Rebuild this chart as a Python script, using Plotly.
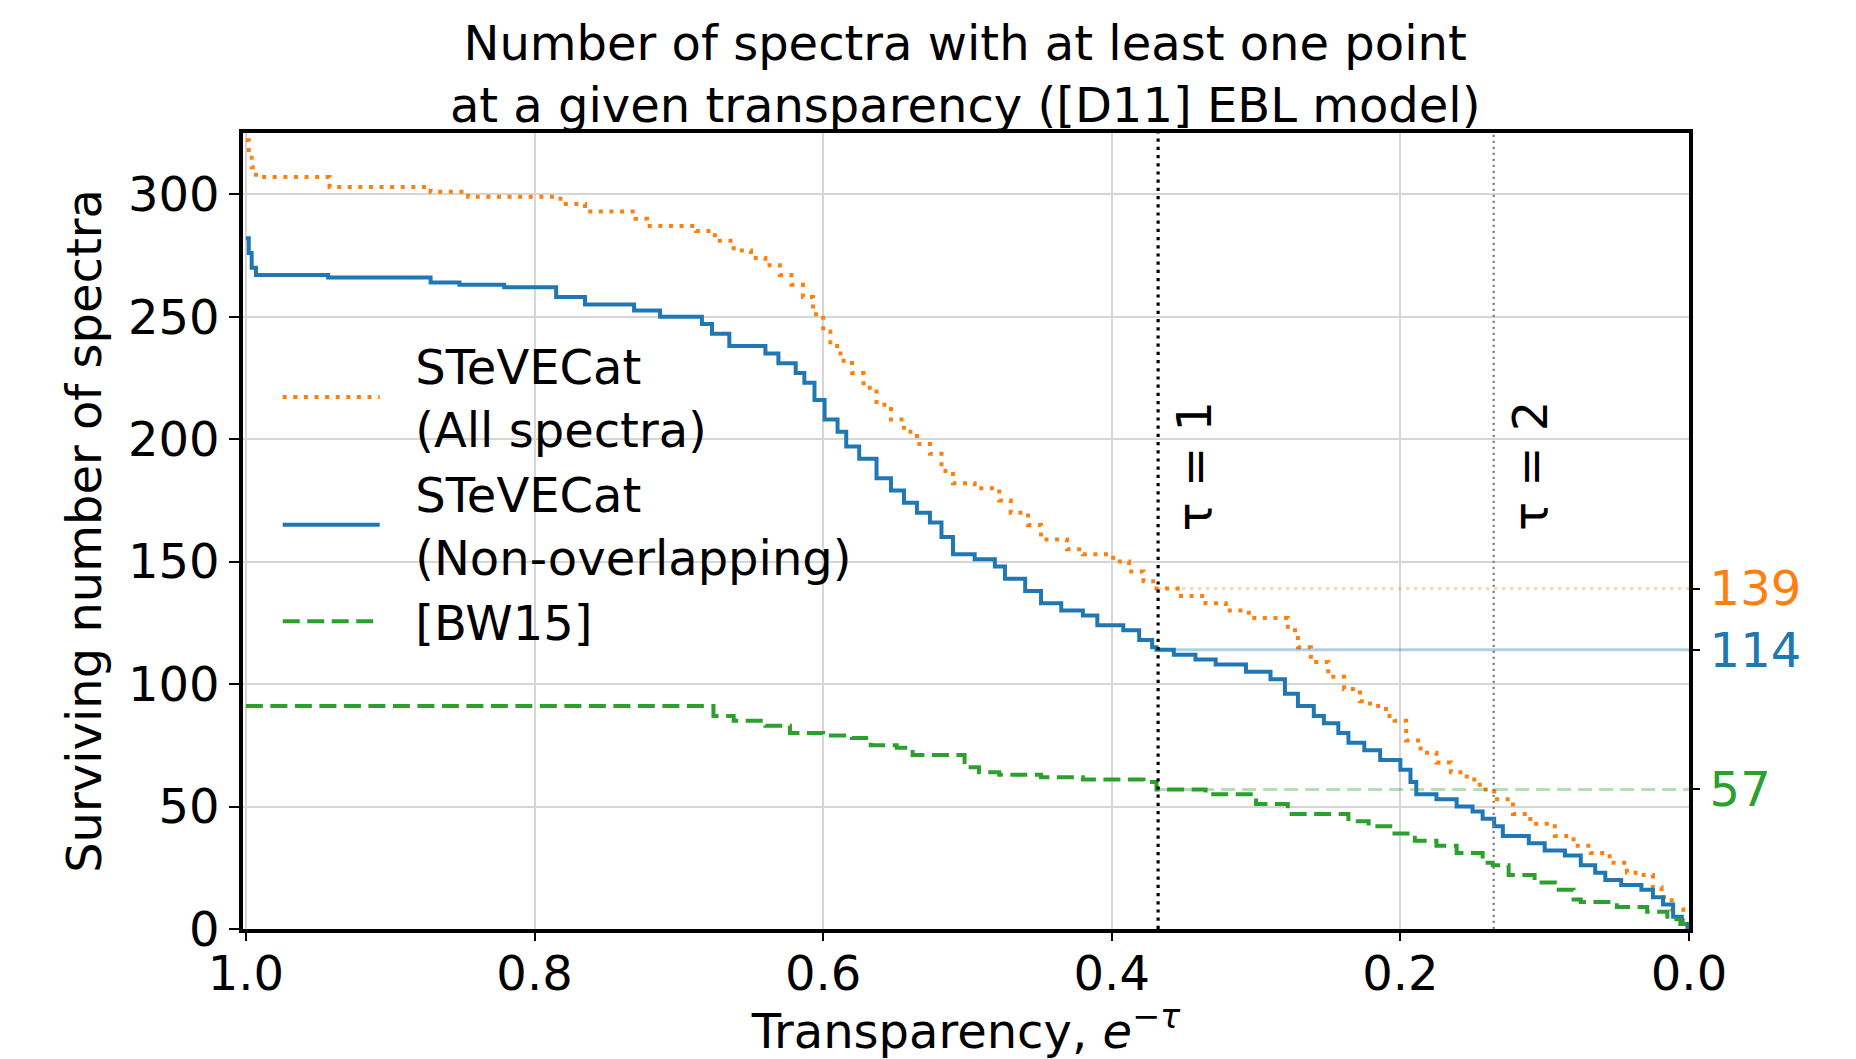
import numpy as np
import plotly.graph_objects as go

# ---------------- data ----------------
transparency_all = [1.000, 0.998, 0.996, 0.993, 0.942, 0.872, 0.846, 0.782, 0.765, 0.730,
                    0.722, 0.688, 0.675, 0.662, 0.650, 0.640, 0.630, 0.622, 0.614, 0.607,
                    0.600, 0.595, 0.588, 0.580, 0.572, 0.563, 0.553, 0.544, 0.535, 0.526,
                    0.518, 0.510, 0.495, 0.478, 0.470, 0.458, 0.449, 0.431, 0.420, 0.399,
                    0.388, 0.378, 0.369, 0.352, 0.335, 0.321, 0.305, 0.278, 0.271, 0.262,
                    0.250, 0.239, 0.228, 0.221, 0.210, 0.204, 0.196, 0.186, 0.175, 0.165,
                    0.154, 0.145, 0.135, 0.122, 0.110, 0.093, 0.080, 0.068, 0.055, 0.043,
                    0.033, 0.025, 0.019, 0.012, 0.004, 0.001]
count_all = [322, 316, 311, 307, 303, 301, 299, 296, 293, 290,
             287, 285, 281, 277, 274, 271, 267, 263, 258, 251,
             244, 238, 232, 227, 221, 214, 208, 203, 198, 194,
             187, 182, 180, 175, 170, 165, 159, 155, 153, 150,
             146, 142, 139, 136, 133, 130, 127, 122, 115, 109,
             103, 98, 93, 91, 87, 85, 77, 72, 68, 64,
             61, 57, 53, 47, 43, 38, 34, 31, 27, 23,
             22, 17, 13, 8, 3, 0]

transparency_nonoverlap = [1.000, 0.998, 0.996, 0.993, 0.943, 0.872, 0.852, 0.821, 0.785, 0.765,
                           0.731, 0.713, 0.684, 0.677, 0.665, 0.640, 0.631, 0.619, 0.613, 0.606,
                           0.599, 0.590, 0.584, 0.575, 0.563, 0.553, 0.544, 0.535, 0.526, 0.518,
                           0.510, 0.495, 0.481, 0.474, 0.460, 0.449, 0.435, 0.420, 0.410, 0.392,
                           0.381, 0.372, 0.369, 0.357, 0.342, 0.328, 0.307, 0.290, 0.280, 0.271,
                           0.260, 0.253, 0.243, 0.236, 0.225, 0.214, 0.200, 0.193, 0.189, 0.175,
                           0.161, 0.150, 0.143, 0.135, 0.129, 0.111, 0.100, 0.086, 0.075, 0.065,
                           0.058, 0.047, 0.033, 0.025, 0.018, 0.011, 0.005, 0.001]
count_nonoverlap = [282, 276, 270, 267, 266, 264, 263, 262, 258, 255,
                    252.5, 250, 247, 243, 238, 235, 231, 227, 223, 216,
                    208, 203, 197, 192, 184, 179, 174, 170, 166, 160,
                    153, 151, 148, 143, 138, 133, 130, 128, 124, 122,
                    118, 115, 114, 112, 110, 108, 105, 102, 96, 91,
                    87, 84, 80, 76, 73, 69, 65, 60, 55, 53,
                    50, 48, 45, 42, 38, 35, 32, 30, 26, 23,
                    20, 18, 16, 13, 10, 5, 2, 0]

transparency_bw15 = [1.000, 0.676, 0.662, 0.640, 0.623, 0.600, 0.580, 0.567, 0.549, 0.538,
                     0.502, 0.492, 0.478, 0.449, 0.420, 0.378, 0.369, 0.335, 0.300, 0.278,
                     0.236, 0.222, 0.207, 0.190, 0.175, 0.161, 0.143, 0.136, 0.125, 0.107,
                     0.093, 0.080, 0.075, 0.050, 0.029, 0.015, 0.006, 0.001]
count_bw15 = [91, 87, 85, 83, 80, 79, 78, 75, 74, 71,
              66, 64, 63, 62, 61, 60, 57, 55, 51, 47,
              44, 42, 39, 36, 34, 31, 27, 26, 22, 19,
              16, 12, 11, 9, 7, 4, 2, 0]

series_names = ["&nbsp;&nbsp;STeVECat<br>&nbsp;&nbsp;(All spectra)",
                "&nbsp;&nbsp;STeVECat<br>&nbsp;&nbsp;(Non-overlapping)",
                "&nbsp;&nbsp;[BW15]"]
series_colors = ["#ff7f0e", "#1f77b4", "#2ca02c"]
series_faint = ["rgba(255,127,14,0.35)", "rgba(31,119,180,0.35)", "rgba(44,160,44,0.35)"]
series_dash = ["4px,6.6px", "solid", "17px,7.5px"]

tau_marks = [1, 2]
tau_colors = ["black", "#7f7f7f"]
counts_at_tau1 = [139, 114, 57]

x_ticks = [1.0, 0.8, 0.6, 0.4, 0.2, 0.0]
y_ticks = [0, 50, 100, 150, 200, 250, 300]
y_max = 325

FONT = "DejaVu Sans"
FS = 48

fig = go.Figure()

xs = [transparency_all, transparency_nonoverlap, transparency_bw15]
ys = [count_all, count_nonoverlap, count_bw15]
for i in range(3):
    fig.add_trace(go.Scatter(
        x=xs[i], y=ys[i], mode="lines", line_shape="hv",
        name=series_names[i],
        line=dict(color=series_colors[i], width=4, dash=series_dash[i]),
    ))

# faint horizontal lines from tau=1 to the right edge (on the right axis)
x_tau1 = float(np.exp(-tau_marks[0]))
for i in range(3):
    fig.add_trace(go.Scatter(
        x=[x_tau1, 0.0], y=[counts_at_tau1[i]] * 2, mode="lines",
        line=dict(color=series_faint[i], width=3,
                  dash=("3px,5px" if i == 0 else ("solid" if i == 1 else "14px,7px"))),
        showlegend=False, hoverinfo="skip", yaxis="y2",
    ))

# vertical tau lines + labels
for t, c, w, d in zip(tau_marks, tau_colors, [3.2, 2.2], ["3.2px,5px", "2.2px,3.8px"]):
    xv = float(np.exp(-t))
    fig.add_shape(type="line", xref="x", yref="paper", x0=xv, x1=xv, y0=0, y1=1,
                  line=dict(color=c, width=w, dash=d))
    fig.add_annotation(x=xv, y=189, xref="x", yref="y", text=f"τ = {t}",
                       textangle=-90, showarrow=False, xshift=36,
                       font=dict(family=FONT, size=FS, color="black"))

tick_text_right = [f'<span style="color:{series_colors[i]}">{counts_at_tau1[i]}</span>'
                   for i in range(3)]

fig.update_layout(
    width=1856, height=1059,
    margin=dict(l=243, r=167, t=133, b=130),
    paper_bgcolor="white", plot_bgcolor="white",
    font=dict(family=FONT, size=FS, color="black"),
    title=dict(text="Number of spectra with at least one point<br>at a given transparency ([D11] EBL model)",
               x=0.52, xanchor="center", y=1 - 60 / 1059, yanchor="middle",
               font=dict(family=FONT, size=FS, color="black")),
    xaxis=dict(range=[1.002, 0.0], tickvals=x_ticks, tickformat=".1f",
               showgrid=True, gridcolor="#d6d6d6", gridwidth=1.5,
               showline=True, linecolor="black", linewidth=3.5, mirror=True,
               ticks="outside", ticklen=8, tickwidth=2, tickcolor="black",
               ticklabelstandoff=-8,
               zeroline=False, automargin=False,
               title=dict(text="Transparency, <i>e</i><sup>−<i>τ</i></sup>",
                          font=dict(family=FONT, size=FS), standoff=20)),
    yaxis=dict(range=[0, y_max], tickvals=y_ticks,
               showgrid=True, gridcolor="#d6d6d6", gridwidth=1.5,
               showline=True, linecolor="black", linewidth=3.5, mirror=True,
               ticks="outside", ticklen=10, tickwidth=2, tickcolor="black",
               zeroline=False, automargin=False,
               title=dict(text="Surviving number of spectra",
                          font=dict(family=FONT, size=FS), standoff=12)),
    yaxis2=dict(range=[0, y_max], overlaying="y", side="right",
                tickvals=counts_at_tau1, ticktext=tick_text_right,
                showgrid=False, zeroline=False, showline=False, automargin=False,
                ticks="outside", ticklen=10, tickwidth=2, tickcolor="black"),
    legend=dict(x=0.024, y=0.755, xanchor="left", yanchor="top",
                bgcolor="rgba(0,0,0,0)", borderwidth=0,
                font=dict(family=FONT, size=FS, color="black"),
                itemwidth=97, tracegroupgap=0, valign="middle"),
    showlegend=True,
)

fig.write_html("out.html")
